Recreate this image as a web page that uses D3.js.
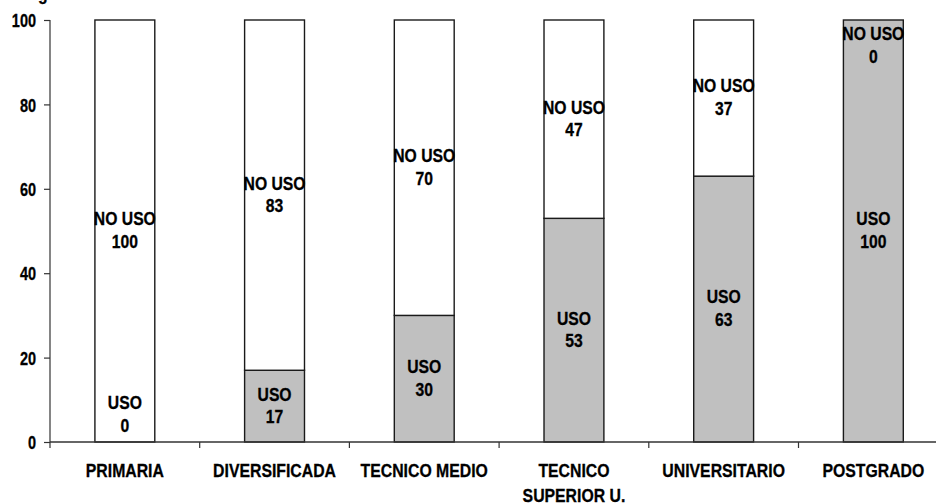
<!DOCTYPE html>
<html>
<head>
<meta charset="utf-8">
<script src="https://cdn.jsdelivr.net/npm/d3@7"></script>
<style>
  html, body { margin: 0; padding: 0; background: #fff; }
  svg { display: block; }
  text { font-family: "Liberation Sans", Arial, sans-serif; font-weight: bold; fill: #000; stroke: #000; stroke-width: 0.3px; }
</style>
</head>
<body>
<svg id="chart" width="936" height="503"></svg>
<script>
// ---- data ----
const categories = ["PRIMARIA", "DIVERSIFICADA", "TECNICO MEDIO", "TECNICO\nSUPERIOR U.", "UNIVERSITARIO", "POSTGRADO"];
const usoValues   = [0, 17, 30, 53, 63, 100];
const noUsoValues = [100, 83, 70, 47, 37, 0];
const seriesNames = ["USO", "NO USO"];
const yTicks = [0, 20, 40, 60, 80, 100];

// ---- layout ----
const W = 936, H = 503;
const mLeft = 50, mTop = 20, mBottom = 442;
const bandW = 149.7;
const svg = d3.select("#chart");

const x = d3.scaleBand().domain(categories).range([mLeft, mLeft + bandW * categories.length]).paddingInner(0).paddingOuter(0);
const y = d3.scaleLinear().domain([0, 100]).range([mBottom, mTop]);
const barW = x.bandwidth() * 0.4;

const FS = 18.6;
function addText(g, str, tx, ty, sx, anchor) {
  return g.append("text")
    .attr("transform", `translate(${tx},${ty}) scale(${sx},1)`)
    .attr("text-anchor", anchor || "middle")
    .style("font-size", FS + "px")
    .text(str);
}

// cut-off title glyph at top
addText(svg, "g", 38, -0.5, 0.845, "start");

// stacked data
const rows = categories.map((c, i) => ({ cat: c, USO: usoValues[i], "NO USO": noUsoValues[i] }));
const stack = d3.stack().keys(seriesNames)(rows);
const fills = { "USO": "#c0c0c0", "NO USO": "#ffffff" };

const gBars = svg.append("g");
stack.forEach(layer => {
  gBars.selectAll(null).data(layer).enter().append("rect")
    .attr("x", d => x(d.data.cat) + (x.bandwidth() - barW) / 2)
    .attr("y", d => y(d[1]))
    .attr("width", barW)
    .attr("height", d => Math.max(0, y(d[0]) - y(d[1])))
    .attr("fill", fills[layer.key])
    .attr("stroke", d => (d[1] - d[0]) > 0 ? "#1a1a1a" : "none")
    .attr("stroke-width", 1.4);
});

// axes
const axisColor = "#333";
const gY = svg.append("g").attr("transform", `translate(${mLeft},0)`)
  .call(d3.axisLeft(y).tickValues(yTicks).tickSize(6).tickPadding(8));
gY.select(".domain").attr("stroke", axisColor).attr("stroke-width", 1.2).attr("d", `M0,${mTop}V${mBottom}`);
gY.selectAll(".tick line").attr("stroke", axisColor).attr("stroke-width", 1.2);
gY.selectAll(".tick text").remove();
gY.selectAll(".tick").each(function(d) {
  addText(d3.select(this), d, -14, 6.7, 0.78, "end");
});

const gX = svg.append("g").attr("transform", `translate(0,${mBottom})`);
gX.append("line").attr("x1", mLeft).attr("x2", W).attr("y1", 0).attr("y2", 0)
  .attr("stroke", axisColor).attr("stroke-width", 1.4);
const boundaries = categories.map(c => x(c));
gX.selectAll(null).data(boundaries).enter().append("line")
  .attr("x1", d => d).attr("x2", d => d).attr("y1", 0).attr("y2", 6)
  .attr("stroke", axisColor).attr("stroke-width", 1.2);
categories.forEach(c => {
  const lines = c.split("\n");
  lines.forEach((ln, k) => {
    addText(gX, ln, x(c) + x.bandwidth() / 2, 35 + k * 24.5, 0.85, "middle");
  });
});

// data labels
const gLab = svg.append("g");
stack.forEach(layer => {
  layer.forEach(d => {
    const v = d[1] - d[0];
    let cy;
    if (v > 0) cy = (y(d[0]) + y(d[1])) / 2;
    else if (layer.key === "USO") cy = y(d[0]) - 27;
    else cy = y(d[1]) + 26;
    const cx = x(d.data.cat) + x.bandwidth() / 2;
    const b1 = cy - 5.6;
    addText(gLab, layer.key, cx, b1, 0.845, "middle");
    addText(gLab, String(v), cx, b1 + 22.5, 0.845, "middle");
  });
});
</script>
</body>
</html>
